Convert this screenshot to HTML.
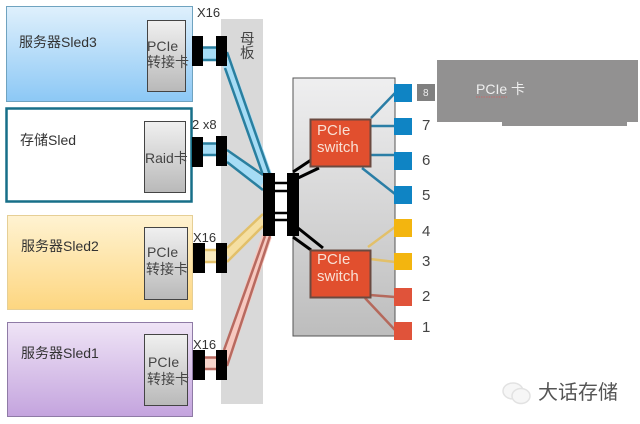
<!DOCTYPE html>
<html><head><meta charset="utf-8"><style>
html,body{margin:0;padding:0;background:#fff;width:640px;height:424px;overflow:hidden}
svg{display:block}
text{font-family:"Liberation Sans","Noto Sans CJK SC",sans-serif}
</style></head><body>
<svg width="640" height="424" viewBox="0 0 640 424" xmlns="http://www.w3.org/2000/svg">
<defs>
<linearGradient id="b" x1="0" y1="0" x2="0" y2="1"><stop offset="0" stop-color="#dff0fc"/><stop offset="1" stop-color="#8cc8f5"/></linearGradient>
<linearGradient id="y" x1="0" y1="0" x2="0" y2="1"><stop offset="0" stop-color="#fff3d2"/><stop offset="1" stop-color="#fdd680"/></linearGradient>
<linearGradient id="p" x1="0" y1="0" x2="0" y2="1"><stop offset="0" stop-color="#efe4f6"/><stop offset="1" stop-color="#c4a4de"/></linearGradient>
<linearGradient id="g" x1="0" y1="0" x2="0" y2="1"><stop offset="0" stop-color="#f0f0f0"/><stop offset="1" stop-color="#b9b9b9"/></linearGradient>
<linearGradient id="pg" x1="0" y1="0" x2="0" y2="1"><stop offset="0" stop-color="#efeff0"/><stop offset="1" stop-color="#bdbdbd"/></linearGradient>
</defs>

<rect x="6.5" y="6.5" width="186" height="95" fill="url(#b)" stroke="#6fa3c0"/>
<rect x="6.5" y="108.5" width="185" height="93" fill="#fff" stroke="#176f88" stroke-width="2.5"/>
<rect x="7.5" y="215.5" width="185" height="94" fill="url(#y)" stroke="#e6cf95"/>
<rect x="7.5" y="322.5" width="185" height="94" fill="url(#p)" stroke="#8f7ba6"/>

<rect x="221" y="19" width="42" height="385" fill="#d9d9d9"/>

<rect x="147.500" y="20.500" width="38" height="71" fill="url(#g)" stroke="#444"/>
<rect x="144.500" y="121.500" width="41" height="71" fill="url(#g)" stroke="#444"/>
<rect x="144.500" y="227.500" width="43" height="72" fill="url(#g)" stroke="#444"/>
<rect x="144.500" y="334.500" width="43" height="71" fill="url(#g)" stroke="#444"/>

<g fill="#333" font-size="14">
<text x="19" y="47">服务器Sled3</text>
<text x="20" y="145">存储Sled</text>
<text x="21" y="251">服务器Sled2</text>
<text x="21" y="358">服务器Sled1</text>
</g>
<g fill="#444" font-size="14">
<text x="147" y="51">PCIe</text>
<text x="147" y="67">转接卡</text>
<text x="145" y="163">Raid卡</text>
<text x="147" y="257">PCIe</text>
<text x="146" y="274">转接卡</text>
<text x="148" y="367">PCIe</text>
<text x="147" y="384">转接卡</text>
</g>
<g fill="#333" font-size="13">
<text x="197" y="17">X16</text>
<text x="192" y="129">2 x8</text>
<text x="193" y="242">X16</text>
<text x="193" y="349">X16</text>
</g>
<text x="240" y="44" font-size="14.500" fill="#444">母</text>
<text x="240" y="58" font-size="14.500" fill="#444">板</text>

<!-- links -->
<g fill="none" stroke-linecap="butt">
<path d="M203 53.500H216" stroke="#a6dcf5" stroke-width="12"/>
<path d="M203 47.500H216M203 60H216" stroke="#2a7f9f" stroke-width="2.500"/>
<path d="M203 149H216" stroke="#a6dcf5" stroke-width="11"/>
<path d="M203 143.500H216M203 155H216" stroke="#2a7f9f" stroke-width="2.500"/>
<path d="M204 256H216" stroke="#f8eac0" stroke-width="11"/>
<path d="M204 250H216M204 262H216" stroke="#e2c06a" stroke-width="2.500"/>
<path d="M204 363H216" stroke="#f7d5cc" stroke-width="11"/>
<path d="M204 357.500H216M204 369H216" stroke="#b86a60" stroke-width="2.500"/>

<path d="M226 60L267 175" stroke="#a6dcf5" stroke-width="10"/>
<path d="M227 52L270 175M225 68L263 175" stroke="#2a7f9f" stroke-width="2.500"/>
<path d="M227 156L263 183" stroke="#a6dcf5" stroke-width="9"/>
<path d="M227 150L263 175M227 162L263 190" stroke="#2a7f9f" stroke-width="2.500"/>
<path d="M227 255L263 220" stroke="#f5dfa2" stroke-width="9"/>
<path d="M227 248L263 214M227 262L263 226" stroke="#e2c06a" stroke-width="2.500"/>
<path d="M226 358L267 236" stroke="#f7c9c0" stroke-width="10"/>
<path d="M224 350L265 236M227 366L270 236" stroke="#b86a60" stroke-width="2.500"/>
</g>

<rect x="293" y="78" width="102" height="258" fill="url(#pg)" stroke="#555" stroke-width="1"/>

<g fill="none">
<path d="M275 183H287M275 191H287M275 213H287M275 220H287" stroke="#000" stroke-width="2.500"/>
<path d="M293 172L311 160M298 178L319 168M293 237L311 250M298 228L323 248" stroke="#000" stroke-width="3"/>
<g stroke-width="2.500">
<path d="M371 118L395 93M370 126H395M370 155H395M362 168L395 194" stroke="#2b7ea6"/>
<path d="M368 247L395 227M370 259L395 262" stroke="#e2c06a"/>
<path d="M370 295L395 297M365 298L395 330" stroke="#b5695c"/>
</g>
</g>

<g fill="#000">
<rect x="192" y="36" width="11" height="30"/>
<rect x="216" y="36" width="11" height="30"/>
<rect x="192" y="137" width="11" height="30"/>
<rect x="216" y="136" width="11" height="30"/>
<rect x="193" y="243" width="12" height="30"/>
<rect x="216" y="243" width="11" height="30"/>
<rect x="193" y="350" width="12" height="30"/>
<rect x="216" y="350" width="11" height="30"/>
<rect x="263" y="173" width="12" height="63"/>
<rect x="287" y="173" width="12" height="63"/>
</g>

<rect x="310.500" y="119.500" width="60" height="47" fill="#e14f2e" stroke="#6b4a40" stroke-width="2"/>
<rect x="310.500" y="250.500" width="60" height="47" fill="#e14f2e" stroke="#6b4a40" stroke-width="2"/>
<g fill="#f8e0d4" font-size="15">
<text x="317" y="135">PCIe</text>
<text x="317" y="152">switch</text>
<text x="317" y="264">PCIe</text>
<text x="317" y="281">switch</text>
</g>

<g fill="#0f84c4">
<rect x="394" y="84" width="18" height="18"/>
<rect x="394" y="118" width="18" height="17"/>
<rect x="394" y="152" width="18" height="18"/>
<rect x="394" y="186" width="18" height="18"/>
</g>
<g fill="#f3b50f">
<rect x="394" y="219" width="18" height="18"/>
<rect x="394" y="253" width="18" height="17"/>
</g>
<g fill="#e0533a">
<rect x="394" y="288" width="18" height="18"/>
<rect x="394" y="322" width="18" height="18"/>
</g>

<rect x="417" y="84" width="18" height="17" fill="#808080"/>
<text x="423" y="96" font-size="10" fill="#eee">8</text>
<g fill="#444" font-size="15">
<text x="422" y="130">7</text>
<text x="422" y="165">6</text>
<text x="422" y="200">5</text>
<text x="422" y="236">4</text>
<text x="422" y="266">3</text>
<text x="422" y="301">2</text>
<text x="422" y="332">1</text>
</g>

<path d="M437 60H638V122H627V126H502V122H437Z" fill="#929191"/>
<text x="476" y="94" font-size="14" fill="#eee">PCIe 卡</text>
<path d="M476 97H507" stroke="#c46a6a" stroke-width="1" stroke-dasharray="1.500 1"/>

<g fill="#f6f6f6" stroke="#e2e2e2" stroke-width="1.500">
<ellipse cx="513" cy="391" rx="10" ry="8"/>
<ellipse cx="521" cy="396" rx="9" ry="7.500"/>
</g>
<text x="538" y="399" font-size="20" fill="#555">大话存储</text>
</svg>
</body></html>
